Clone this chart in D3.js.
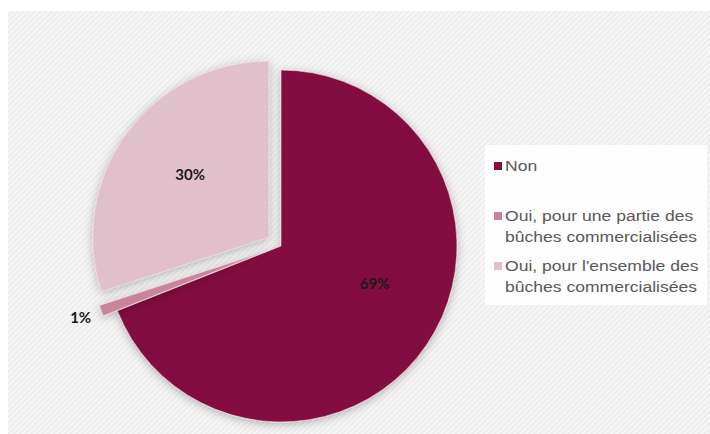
<!DOCTYPE html>
<html>
<head>
<meta charset="utf-8">
<script src="https://cdn.jsdelivr.net/npm/d3@7"></script>
<style>
  body { margin: 0; background: #fff; }
  svg { display: block; }
</style>
</head>
<body>
<script>
const WIDTH  = 710;
const HEIGHT = 434;

// data
const categories = ["Non",
                    "Oui, pour une partie des bûches commercialisées",
                    "Oui, pour l'ensemble des bûches commercialisées"];
const values     = [69, 1, 30];
const valueLabels = ["69%", "1%", "30%"];

// styling
const colors      = ["#830f3f", "#c98499", "#e0c0cb"];
const explode     = [0, 15, 15];
const labelRadius = [0.575, 1.21, 0.655];
const labelTurn   = [-12, 0, 2];   // degrees, nudge label around the slice

const CX = 281, CY = 246, R = 176;
const LEGEND_STRETCH = 1.17;

function setUpChart() {
  const svg = d3.select("body").append("svg")
      .attr("width", WIDTH)
      .attr("height", HEIGHT);

  const defs = svg.append("defs");

  // diagonal stripe texture of the background
  const pat = defs.append("pattern")
      .attr("id", "stripes")
      .attr("width", 4).attr("height", 4)
      .attr("patternUnits", "userSpaceOnUse")
      .attr("patternTransform", "rotate(45)");
  pat.append("rect").attr("width", 4).attr("height", 4).attr("fill", "#f6f6f6");
  pat.append("rect").attr("width", 1.5).attr("height", 4).attr("fill", "#ebebeb");

  const f = defs.append("filter")
      .attr("id", "shadow")
      .attr("x", "-20%").attr("y", "-20%")
      .attr("width", "140%").attr("height", "140%");
  f.append("feDropShadow")
      .attr("dx", 0).attr("dy", 2)
      .attr("stdDeviation", 5)
      .attr("flood-color", "#000")
      .attr("flood-opacity", 0.28);

  svg.append("rect")
      .attr("x", 8).attr("y", 11)
      .attr("width", WIDTH - 8).attr("height", HEIGHT - 11)
      .attr("fill", "url(#stripes)");

  return svg;
}

function drawPie(svg) {
  const pie = d3.pie().sort(null).value(d => d)(values);
  const arc = d3.arc().innerRadius(0).outerRadius(R);

  const g = svg.append("g")
      .attr("transform", "translate(" + CX + "," + CY + ")");

  const slices = g.selectAll("g.slice")
      .data(pie)
      .enter()
      .append("g").attr("class", "slice")
        .attr("transform", (d, i) => {
          const a = (d.startAngle + d.endAngle) / 2;
          return "translate(" + (Math.sin(a) * explode[i]) + "," + (-Math.cos(a) * explode[i]) + ")";
        });

  slices.append("path")
      .attr("d", arc)
      .attr("fill", (d, i) => colors[i])
      .attr("stroke", "#f3dbe3")
      .attr("stroke-width", 0.6)
      .attr("filter", "url(#shadow)");

  g.selectAll("text.pct")
      .data(pie)
      .enter()
      .append("text").attr("class", "pct")
        .attr("x", (d, i) => {
          const a = (d.startAngle + d.endAngle) / 2 + labelTurn[i] * Math.PI / 180;
          return Math.sin(a) * R * labelRadius[i];
        })
        .attr("y", (d, i) => {
          const a = (d.startAngle + d.endAngle) / 2 + labelTurn[i] * Math.PI / 180;
          return -Math.cos(a) * R * labelRadius[i];
        })
        .attr("dy", "0.35em")
        .attr("text-anchor", "middle")
        .style("font-family", "Lato, 'Open Sans', sans-serif")
        .style("font-weight", "bold")
        .style("font-size", "15px")
        .style("fill", "#1a1a1a")
        .text((d, i) => valueLabels[i]);
}

function wrap(textSel, maxWidth) {
  textSel.each(function (d) {
    const text = d3.select(this);
    const words = d.split(" ");
    const x = text.attr("x");
    let line = [];
    let tspan = text.text(null).append("tspan").attr("x", x);
    words.forEach(w => {
      line.push(w);
      tspan.text(line.join(" "));
      if (tspan.node().getComputedTextLength() > maxWidth && line.length > 1) {
        line.pop();
        tspan.text(line.join(" "));
        line = [w];
        tspan = text.append("tspan").attr("x", x).attr("dy", "21px").text(w);
      }
    });
  });
}

function drawLegend(svg) {
  svg.append("rect")
      .attr("x", 485).attr("y", 145)
      .attr("width", 222).attr("height", 160)
      .attr("fill", "#fff")
      .attr("opacity", 0.85);

  const items = svg.selectAll("g.legend")
      .data(categories)
      .enter()
      .append("g").attr("class", "legend")
        .attr("transform", (d, i) => "translate(494," + (171 + i * 50) + ")");

  items.append("rect")
      .attr("x", 0).attr("y", -9)
      .attr("width", 8).attr("height", 8)
      .attr("fill", (d, i) => colors[i]);

  // the source text is a little stretched sideways
  items.append("g")
      .attr("transform", "translate(11,0) scale(" + LEGEND_STRETCH + ",1)")
    .append("text")
      .attr("x", 0).attr("y", 0)
      .style("font-family", "'Liberation Sans', Arial, sans-serif")
      .style("font-size", "15px")
      .style("fill", "#595959")
      .call(wrap, 200 / LEGEND_STRETCH);
}

const svg = setUpChart();
drawPie(svg);
drawLegend(svg);
</script>
</body>
</html>
